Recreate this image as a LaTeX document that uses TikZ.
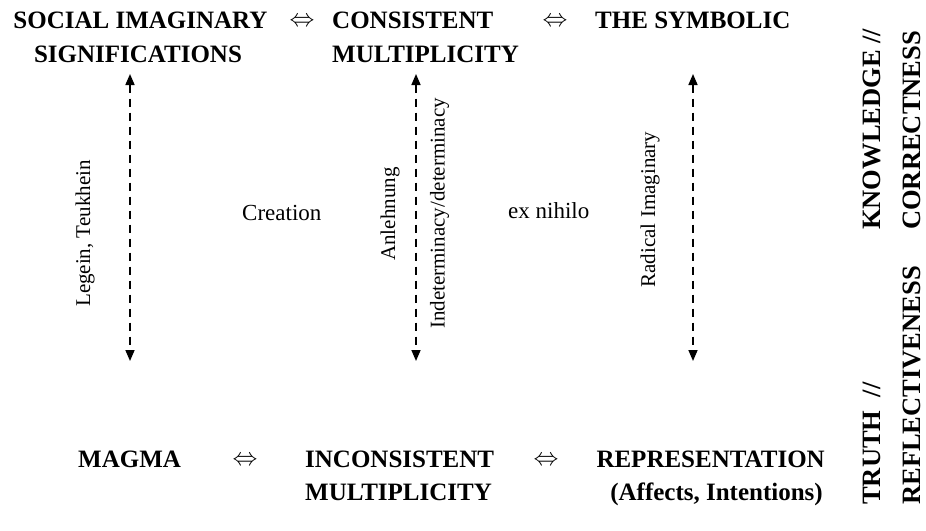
\documentclass[tikz,border=0pt]{standalone}
\usepackage{fontspec}
\setmainfont{Liberation Serif}
\usetikzlibrary{arrows.meta}
\begin{document}
\begin{tikzpicture}[x=1pt,y=-1pt,
  head/.style={font=\fontsize{25}{30}\selectfont\bfseries, inner sep=0pt},
  side/.style={font=\fontsize{26.5}{30}\selectfont\bfseries, inner sep=0pt, rotate=90, anchor=base west},
  lbl/.style={font=\fontsize{23}{28}\selectfont, inner sep=0pt, anchor=base west},
  vlbl/.style={font=\fontsize{21}{25}\selectfont, inner sep=0pt, rotate=90, anchor=base},
  eqv/.style={font=\fontsize{25}{30}\selectfont, inner sep=0pt, anchor=base},
  link/.style={{Triangle[length=11pt,width=9pt]}-{Triangle[length=11pt,width=9pt]}, line width=1.6pt, dash pattern=on 8pt off 6pt}]
\useasboundingbox (0,0) rectangle (926,530);
% top row
\node[head, anchor=base] (sis1) at (140.5,28) {SOCIAL IMAGINARY};
\node[head, anchor=base] (sis2) at (138,62) {SIGNIFICATIONS};
\node[eqv] (eq1) at (302,26) {$\Leftrightarrow$};
\node[head, anchor=base west] (cm1) at (332,28) {CONSISTENT};
\node[head, anchor=base west] (cm2) at (332,62) {MULTIPLICITY};
\node[eqv] (eq2) at (555,26) {$\Leftrightarrow$};
\node[head, anchor=base west] (sym) at (595,28) {THE SYMBOLIC};
% bottom row
\node[head, anchor=base west] (mag) at (78,467) {MAGMA};
\node[eqv] (eq3) at (245,465) {$\Leftrightarrow$};
\node[head, anchor=base west] (im1) at (305,467) {INCONSISTENT};
\node[head, anchor=base west] (im2) at (305,500) {MULTIPLICITY};
\node[eqv] (eq4) at (546,465) {$\Leftrightarrow$};
\node[head, anchor=base east] (rep1) at (825,467) {REPRESENTATION};
\node[head, anchor=base east] (rep2) at (823,500) {(Affects, Intentions)};
% middle labels
\node[lbl] (cre) at (242,220) {Creation};
\node[lbl] (exn) at (508,218) {ex nihilo};
\node[vlbl] (leg) at (90,233.5) {Legein, Teukhein};
\node[vlbl] (anl) at (395,214) {Anlehnung};
\node[vlbl] (ind) at (444.5,213.5) {Indeterminacy/determinacy};
\node[vlbl] (rad) at (655,209.5) {Radical Imaginary};
% right side
\node[side] (kn) at (880,230) {KNOWLEDGE //};
\node[side] (co) at (920,230) {CORRECTNESS};
\node[side] (tr) at (880,505) {TRUTH \ //};
\node[side] (re) at (920,505) {REFLECTIVENESS};
% arrows
\coordinate (a1t) at (130,74); \coordinate (a1b) at (130,361);
\coordinate (a2t) at (416,74); \coordinate (a2b) at (416,361);
\coordinate (a3t) at (693,74); \coordinate (a3b) at (693,361);
\draw[link] (a1t) -- (a1b);
\draw[link] (a2t) -- (a2b);
\draw[link] (a3t) -- (a3b);
\end{tikzpicture}
\end{document}
